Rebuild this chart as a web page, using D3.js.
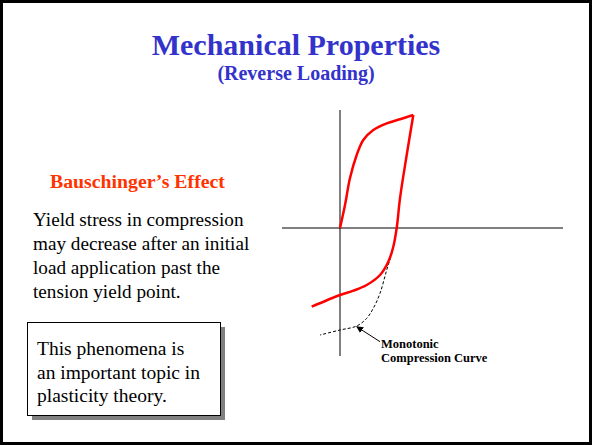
<!DOCTYPE html>
<html><head><meta charset="utf-8">
<script src="https://cdn.jsdelivr.net/npm/d3@7"></script>
<style>html,body{margin:0;padding:0;background:#fff;}svg{display:block;}</style>
</head><body>
<svg id="c" width="592" height="445"></svg>
<script>
// Data (arbitrary strain / stress units)
const loadingCurve = [[0,0],[0.5,2.3],[1.0,5.0],[1.67,7.3],[2.33,8.8],[3.33,9.8],[4.67,10.47],[6.0,10.87],[7.33,11.3]];
const reverseCurve = [[7.33,11.3],[6.67,7.3],[6.0,2.97],[5.67,0],[5.33,-1.87],[4.83,-3.37],[4.0,-4.7],[2.67,-5.7],[1.33,-6.27],[0,-6.7],[-2.83,-7.87]];
const monotonicCurve = [[5.67,0],[5.27,-2.2],[4.67,-4.2],[4.0,-6.53],[3.33,-8.03],[2.67,-9.03],[1.67,-9.8],[0,-10.2],[-2.0,-10.7]];
const titleText = "Mechanical Properties";
const subtitleText = "(Reverse Loading)";
const effectLabel = "Bauschinger\u2019s Effect";
const bodyLines = ["Yield stress in compression","may decrease after an initial","load application past the","tension yield point."];
const boxLines = ["This phenomena is","an important topic in","plasticity theory."];
const curveLabel = ["Monotonic","Compression Curve"];

const svg = d3.select("#c");
svg.append("rect").attr("x",1.5).attr("y",1.5).attr("width",589).attr("height",442)
  .attr("fill","#fff").attr("stroke","#000").attr("stroke-width",3);

const serif = "'Liberation Serif','Times New Roman',serif";
svg.append("text").attr("x",296).attr("y",55).attr("text-anchor","middle")
  .attr("font-family",serif).attr("font-weight","bold").attr("font-size",30)
  .attr("fill","#3333cc").text(titleText);
svg.append("text").attr("x",296).attr("y",80).attr("text-anchor","middle")
  .attr("font-family",serif).attr("font-weight","bold").attr("font-size",20)
  .attr("fill","#3333cc").text(subtitleText);
svg.append("text").attr("x",50).attr("y",188)
  .attr("font-family",serif).attr("font-weight","bold").attr("font-size",19.8)
  .attr("fill","#ff3300").text(effectLabel);
svg.append("g").selectAll("text").data(bodyLines).join("text")
  .attr("x",33).attr("y",(d,i)=>226+i*24)
  .attr("font-family",serif).attr("font-size",19.2).attr("fill","#000").text(d=>d);

svg.append("rect").attr("x",32).attr("y",327).attr("width",193).attr("height",93).attr("fill","#808080");
svg.append("rect").attr("x",27.5).attr("y",322.5).attr("width",193).attr("height",93)
  .attr("fill","#fff").attr("stroke","#000").attr("stroke-width",1);
svg.append("g").selectAll("text").data(boxLines).join("text")
  .attr("x",37).attr("y",(d,i)=>355+i*23.5)
  .attr("font-family",serif).attr("font-size",19.5).attr("fill","#000").text(d=>d);

const x = d3.scaleLinear().domain([-5.8,22.3]).range([282,563]);
const y = d3.scaleLinear().domain([-12.8,11.8]).range([356,110]);
const g = svg.append("g");
g.append("line").attr("x1",x(-5.8)).attr("x2",x(22.3)).attr("y1",y(0)).attr("y2",y(0)).attr("stroke","#000").attr("stroke-width",1);
g.append("line").attr("x1",x(0)).attr("x2",x(0)).attr("y1",y(11.8)).attr("y2",y(-12.8)).attr("stroke","#000").attr("stroke-width",1);

const line = d3.line().x(d=>x(d[0])).y(d=>y(d[1])).curve(d3.curveCatmullRom.alpha(0.5));
g.append("path").attr("d",line(monotonicCurve)).attr("fill","none").attr("stroke","#000")
  .attr("stroke-width",1).attr("stroke-dasharray","3,2");
g.append("path").attr("d",line(loadingCurve)).attr("fill","none").attr("stroke","#ff0000").attr("stroke-width",2.5).attr("stroke-linejoin","round");
g.append("path").attr("d",line(reverseCurve)).attr("fill","none").attr("stroke","#ff0000").attr("stroke-width",2.5).attr("stroke-linejoin","round");

svg.append("defs").append("marker").attr("id","ah").attr("viewBox","0 0 10 10").attr("refX",9).attr("refY",5)
  .attr("markerWidth",7).attr("markerHeight",7).attr("orient","auto")
  .append("path").attr("d","M0,0 L10,5 L0,10 z").attr("fill","#000");
g.append("line").attr("x1",x(4.0)).attr("y1",y(-11.37)).attr("x2",x(1.67)).attr("y2",y(-9.87))
  .attr("stroke","#000").attr("stroke-width",1).attr("marker-end","url(#ah)");

svg.append("g").selectAll("text").data(curveLabel).join("text")
  .attr("x",381).attr("y",(d,i)=>347.5+i*14.5)
  .attr("font-family",serif).attr("font-weight","bold").attr("font-size",12.5).attr("fill","#000").text(d=>d);
</script>
</body></html>
